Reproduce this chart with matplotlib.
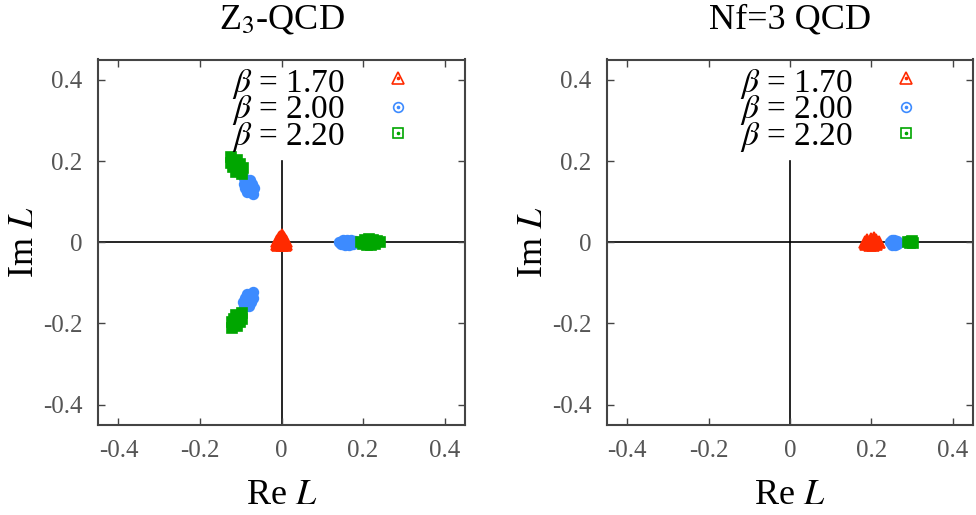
import matplotlib
matplotlib.use("Agg")
import matplotlib.pyplot as plt

plt.rcParams['font.family'] = ['Liberation Serif', 'DejaVu Serif']
plt.rcParams['mathtext.fontset'] = 'stix'

# ---------------- data ----------------
titles = ["Z$_3$-QCD", "Nf=3 QCD"]
labels = [r"$\beta$ = 1.70", r"$\beta$ = 2.00", r"$\beta$ = 2.20"]
colors = ["#ff2a00", "#3d8bff", "#00a600"]
markers = ["^", "o", "s"]
tick_vals = [-0.4, -0.2, 0, 0.2, 0.4]
tick_labels = ["-0.4", "-0.2", "0", "0.2", "0.4"]

# Z3-QCD
z3_b170_re = [-0.012, -0.006, 0.000, 0.006, 0.012, -0.008, 0.000, 0.008, 0.000, -0.004, 0.004, -0.010, 0.010]
z3_b170_im = [0.002, 0.010, 0.017, 0.010, 0.002, -0.006, -0.007, -0.006, 0.004, 0.013, 0.013, -0.004, -0.004]

z3_b200_re = [0.142, 0.150, 0.160, 0.170, 0.180, 0.186, 0.147, 0.155, 0.165, 0.175, 0.150, 0.160, 0.170,
              0.155, 0.165, 0.175,
              -0.091, -0.086, -0.081, -0.076, -0.070, -0.078, -0.073, -0.068, -0.093, -0.089, -0.084,
              -0.092, -0.087, -0.082, -0.077, -0.071, -0.079, -0.074, -0.069, -0.094, -0.090, -0.085]
z3_b200_im = [0.000, 0.005, 0.006, 0.005, 0.003, 0.000, -0.005, -0.006, -0.006, -0.004, 0.000, 0.000, 0.001,
              0.002, -0.002, 0.000,
              0.158, 0.148, 0.139, 0.129, 0.119, 0.153, 0.144, 0.134, 0.143, 0.134, 0.124,
              -0.160, -0.151, -0.142, -0.133, -0.123, -0.156, -0.147, -0.138, -0.146, -0.137, -0.128]

z3_b220_re = [0.196, 0.205, 0.215, 0.225, 0.235, 0.241, 0.200, 0.210, 0.220, 0.230, 0.210, 0.222,
              0.215, 0.228,
              -0.123, -0.116, -0.110, -0.103, -0.096, -0.109, -0.102, -0.095, -0.123, -0.118, -0.111,
              -0.121, -0.115, -0.110, -0.104, -0.098, -0.108, -0.102, -0.096, -0.122, -0.117, -0.111]
z3_b220_im = [0.000, 0.006, 0.007, 0.006, 0.003, 0.000, -0.005, -0.007, -0.007, -0.004, 0.000, 0.000,
              0.002, -0.002,
              0.211, 0.199, 0.189, 0.178, 0.167, 0.203, 0.193, 0.182, 0.195, 0.185, 0.174,
              -0.211, -0.201, -0.193, -0.184, -0.174, -0.205, -0.197, -0.188, -0.197, -0.189, -0.180]

# Nf=3 QCD
nf3_b170_re = [0.184, 0.190, 0.198, 0.206, 0.212, 0.218, 0.188, 0.196, 0.204, 0.212, 0.200, 0.206]
nf3_b170_im = [0.000, 0.005, 0.008, 0.010, 0.006, 0.000, -0.005, -0.006, -0.006, -0.004, 0.002, 0.003]
nf3_b200_re = [0.245, 0.250, 0.256, 0.262, 0.266, 0.250, 0.258, 0.262, 0.255]
nf3_b200_im = [0.000, 0.005, 0.006, 0.004, -0.002, -0.006, -0.007, -0.005, 0.000]
nf3_b220_re = [0.291, 0.297, 0.302, 0.300, 0.296]
nf3_b220_im = [0.001, 0.000, -0.001, 0.002, -0.002]

panels = [
    [(z3_b170_re, z3_b170_im), (z3_b200_re, z3_b200_im), (z3_b220_re, z3_b220_im)],
    [(nf3_b170_re, nf3_b170_im), (nf3_b200_re, nf3_b200_im), (nf3_b220_re, nf3_b220_im)],
]

# ---------------- figure ----------------
W, H = 976, 515
fig = plt.figure(figsize=(W / 100, H / 100), dpi=100)
ax_rects = [[98 / W, 90 / H, 367 / W, 365.5 / H],
            [607 / W, 90 / H, 366 / W, 365.5 / H]]
msizes = [9, 7, 7]
spine_col = "#444444"
tick_col = "#555555"

for k, (rect, series, title) in enumerate(zip(ax_rects, panels, titles)):
    ax = fig.add_axes(rect)
    ax.set_xlim(-0.45, 0.45)
    ax.set_ylim(-0.45, 0.45)

    # zero axes
    ax.plot([-0.45, 0.45], [0, 0], color="black", lw=1.2, zorder=1)
    ax.plot([0, 0], [-0.45, 0.2], color="black", lw=1.2, zorder=1)

    for (re, im), c, m, ms in zip(series, colors, markers, msizes):
        ax.plot(re, im, linestyle="none", marker=m, ms=ms, color=c,
                markerfacecolor=c, markeredgewidth=1.2, zorder=3)

    # key (gnuplot style: text then open marker with dot)
    text_y = [0.911, 0.839, 0.766]
    mark_y = [0.949, 0.870, 0.799]
    for lab, c, m, ms, ty, my in zip(labels, colors, markers, msizes, text_y, mark_y):
        ax.text(0.673, ty, lab, transform=ax.transAxes, ha="right", va="baseline",
                fontsize=24, color="black", zorder=6)
        ax.plot([0.818], [my], transform=ax.transAxes, linestyle="none", marker=m,
                ms=ms, markerfacecolor="none", markeredgecolor=c, markeredgewidth=1.2,
                clip_on=False, zorder=6)
        ax.plot([0.818], [my], transform=ax.transAxes, linestyle="none", marker="o",
                ms=1.6, color=c, clip_on=False, zorder=6)

    ax.text(0.5, 1 + (59.5 - 28) / 365.5, title, transform=ax.transAxes,
            ha="center", va="baseline", fontsize=26)

    ax.set_xticks(tick_vals)
    ax.set_xticklabels(tick_labels)
    ax.set_yticks(tick_vals)
    ax.set_yticklabels(tick_labels)
    ax.tick_params(direction="in", length=5, width=1.0, colors=spine_col,
                   labelcolor=tick_col, labelsize=18, pad=11,
                   top=True, right=True)
    for s in ax.spines.values():
        s.set_color(spine_col)
        s.set_linewidth(1.5)

    ax.set_xlabel("Re $L$", fontsize=26)
    ax.xaxis.label.set_va("baseline")
    ax.xaxis.set_label_coords(0.5, (425 - 504) / 365.5)
    ax.set_ylabel("Im $L$", fontsize=26)
    ax.yaxis.label.set_va("baseline")
    ax.yaxis.set_label_coords(-0.177, 0.5)

fig.savefig("out.png", dpi=100)
